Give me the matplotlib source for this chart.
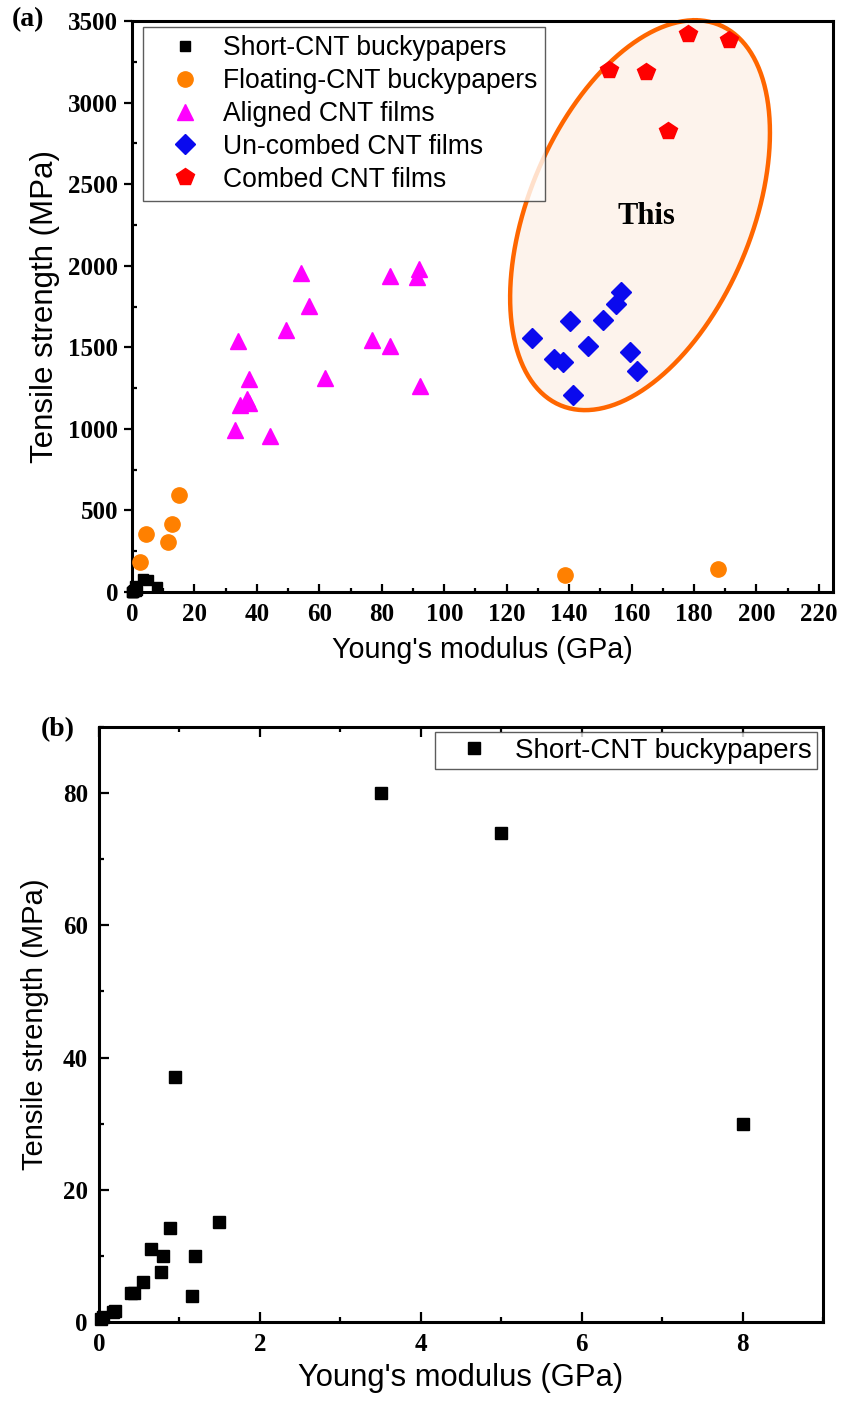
import matplotlib
matplotlib.use('Agg')
import matplotlib.pyplot as plt
import numpy as np
from matplotlib.ticker import MultipleLocator

plt.rcParams['font.family'] = ['Liberation Sans', 'DejaVu Sans']

# ---------------------------
# 資料 (a)
# ---------------------------
short_E = [0.03, 0.05, 0.17, 0.20, 0.40, 0.43, 0.55, 0.65, 0.77, 0.80, 0.88, 0.94, 1.16, 1.19, 1.49, 3.5, 5.0, 8.0]
short_S = [0.5, 0.8, 1.5, 1.7, 4.4, 4.4, 6.0, 11.0, 7.6, 10.0, 14.2, 37.0, 3.9, 10.0, 15.1, 80.0, 74.0, 30.0]

float_E = [2.6, 4.5, 11.5, 12.8, 15.0, 138.6, 187.6]
float_S = [184, 355, 306, 417, 594, 104, 141]

aligned_E = [54.1, 82.6, 91.9, 91.3, 56.7, 49.3, 33.9, 76.8, 82.6, 37.5, 61.8, 92.2, 36.8, 34.6, 37.5, 33.0, 44.2]
aligned_S = [1955, 1936, 1979, 1930, 1752, 1605, 1538, 1544, 1507, 1305, 1311, 1262, 1183, 1146, 1158, 993, 956]

uncombed_E = [156.6, 155.0, 140.3, 150.8, 128.1, 146.0, 135.1, 138.0, 159.5, 161.7, 141.2]
uncombed_S = [1839, 1765, 1661, 1667, 1556, 1507, 1428, 1409, 1471, 1354, 1207]

combed_E = [178.0, 191.2, 152.7, 164.6, 171.6]
combed_S = [3419, 3382, 3199, 3186, 2825]

labels = ['Short-CNT buckypapers', 'Floating-CNT buckypapers', 'Aligned CNT films',
          'Un-combed CNT films', 'Combed CNT films']

serif = ['Liberation Serif', 'DejaVu Serif']


def style_axes(ax):
    for sp in ax.spines.values():
        sp.set_linewidth(2.2)
    for lab in ax.get_xticklabels() + ax.get_yticklabels():
        lab.set_fontfamily(serif)
        lab.set_fontweight('bold')
        lab.set_fontsize(18)


fig = plt.figure(figsize=(8.42, 14.12), dpi=100)

# ---------------------------
# (a)
# ---------------------------
ax1 = fig.add_axes([0.1568, 0.5807, 0.8325, 0.4044])

# 橢圓 (This work)
t = np.linspace(0, 2 * np.pi, 300)
cx, cy = 162.7, 2310
ex = cx + 17.6 * np.cos(t) + 37.7 * np.sin(t)
ey = cy + 1195 * np.cos(t)
ax1.fill(ex, ey, facecolor='#fdf3ec', edgecolor='none', zorder=1, clip_on=False)
ax1.plot(ex, ey, color='#ff6600', lw=3.2, zorder=2, clip_on=False)
ax1.text(164.6, 2300, 'This', ha='center', va='center', zorder=3,
         fontfamily=serif, fontweight='bold', fontsize=22)

ax1.plot(short_E, short_S, 's', color='black', ms=7, ls='none', label=labels[0], clip_on=False, zorder=4)
ax1.plot(float_E, float_S, 'o', color='#ff8000', ms=11, ls='none', label=labels[1], clip_on=False, zorder=4)
ax1.plot(aligned_E, aligned_S, '^', color='#ff00ff', ms=11, ls='none', label=labels[2], zorder=4)
ax1.plot(uncombed_E, uncombed_S, 'D', color='#0a0aee', ms=10, ls='none', label=labels[3], zorder=4)
ax1.plot(combed_E, combed_S, 'p', color='#ff0000', ms=13, ls='none', label=labels[4], zorder=4)

ax1.set_xlim(0, 224.5)
ax1.set_ylim(0, 3500)
ax1.xaxis.set_major_locator(MultipleLocator(20))
ax1.xaxis.set_minor_locator(MultipleLocator(10))
ax1.yaxis.set_major_locator(MultipleLocator(500))
ax1.yaxis.set_minor_locator(MultipleLocator(250))
ax1.tick_params(axis='x', which='major', direction='in', length=6, width=1.6, pad=8)
ax1.tick_params(axis='x', which='minor', direction='in', length=3, width=1.6)
ax1.tick_params(axis='y', which='major', direction='out', length=6, width=1.6, pad=4)
ax1.tick_params(axis='y', which='minor', direction='in', length=3.5, width=1.6)
style_axes(ax1)

ax1.set_xlabel("Young's modulus (GPa)", fontsize=20.6, labelpad=7)
ax1.set_ylabel('Tensile strength (MPa)', fontsize=22.5, labelpad=6)

leg = ax1.legend(loc='upper left', bbox_to_anchor=(0.0157, 0.9895), borderaxespad=0,
                 fontsize=19.1, numpoints=1, frameon=True, fancybox=False,
                 labelspacing=0.26, handlelength=2.6, handletextpad=0.1, borderpad=0.3)
leg.get_frame().set_edgecolor('#333333')
leg.get_frame().set_linewidth(1.0)

fig.text(0.033, 0.986, '(a)', ha='center', va='center',
         fontfamily=serif, fontweight='bold', fontsize=20)

# ---------------------------
# (b)
# ---------------------------
ax2 = fig.add_axes([0.1176, 0.0637, 0.8599, 0.4214])
ax2.plot(short_E, short_S, 's', color='black', ms=9, ls='none', label=labels[0], clip_on=False)

ax2.set_xlim(0, 9)
ax2.set_ylim(0, 90)
ax2.xaxis.set_major_locator(MultipleLocator(2))
ax2.xaxis.set_minor_locator(MultipleLocator(1))
ax2.yaxis.set_major_locator(MultipleLocator(20))
ax2.yaxis.set_minor_locator(MultipleLocator(10))
ax2.tick_params(which='major', direction='in', length=7, width=1.6, top=True, pad=8)
ax2.tick_params(which='minor', direction='in', length=3.5, width=1.6, top=True)
style_axes(ax2)

ax2.set_xlabel("Young's modulus (GPa)", fontsize=22.3, labelpad=5)
ax2.set_ylabel('Tensile strength (MPa)', fontsize=21, labelpad=10)

leg2 = ax2.legend(loc='upper right', bbox_to_anchor=(0.9915, 0.9915), borderaxespad=0,
                  fontsize=20, numpoints=1, frameon=True, fancybox=False,
                  handlelength=2.45, handletextpad=0.22, borderpad=0.2)
leg2.get_frame().set_edgecolor('#333333')
leg2.get_frame().set_linewidth(1.0)

fig.text(0.068, 0.483, '(b)', ha='center', va='center',
         fontfamily=serif, fontweight='bold', fontsize=20)

plt.savefig('out.png', dpi=100)
